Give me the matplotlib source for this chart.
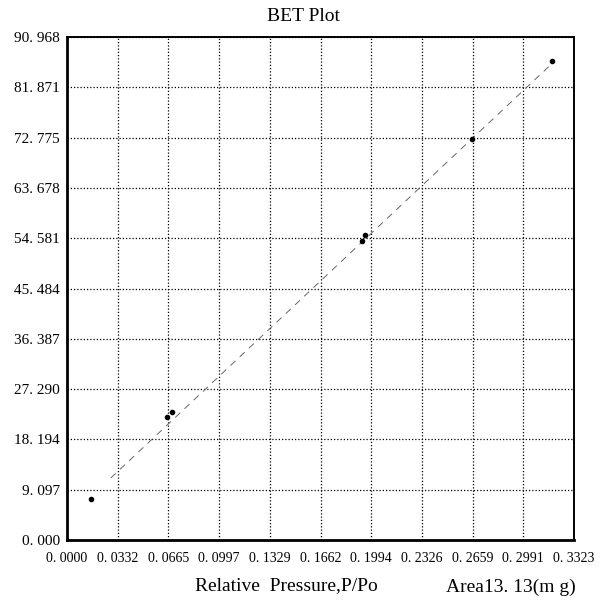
import matplotlib
matplotlib.use("Agg")
import matplotlib.pyplot as plt

# measured points (relative pressure, BET transform)
rel_p = [0.0157, 0.0656, 0.0688, 0.1932, 0.1952, 0.2657, 0.3176]
bet_y = [7.42, 22.25, 23.15, 54.08, 55.16, 72.52, 86.63]

# fitted line ends
fit_x = [0.0287, 0.3176]
fit_y = [11.21, 86.09]

x_ticks = [0.0, 0.0332, 0.0665, 0.0997, 0.1329, 0.1662, 0.1994, 0.2326, 0.2659, 0.2991, 0.3323]
x_labels = ["0. 0000", "0. 0332", "0. 0665", "0. 0997", "0. 1329", "0. 1662",
            "0. 1994", "0. 2326", "0. 2659", "0. 2991", "0. 3323"]
y_ticks = [0.0, 9.097, 18.194, 27.290, 36.387, 45.484, 54.581, 63.678, 72.775, 81.871, 90.968]
y_labels = ["0. 000", "9. 097", "18. 194", "27. 290", "36. 387", "45. 484",
            "54. 581", "63. 678", "72. 775", "81. 871", "90. 968"]

plt.rcParams['font.family'] = ['Liberation Serif', 'DejaVu Serif']

fig = plt.figure(figsize=(6.05, 6.02), dpi=100)
ax = fig.add_axes([0.1107, 0.103, 0.838, 0.8355])

ax.plot(fit_x, fit_y, color='#666666', lw=0.7, linestyle=(0, (7, 6)))
ax.plot(rel_p, bet_y, 'o', color='black', markersize=3, linestyle='none')

ax.set_xlim(0, 0.3323)
ax.set_ylim(0, 90.968)
ax.set_xticks(x_ticks)
ax.set_xticklabels(x_labels, fontsize=10)
ax.set_yticks(y_ticks)
ax.set_yticklabels(y_labels, fontsize=11)
ax.tick_params(axis='both', length=0)
ax.tick_params(axis='x', pad=9)
ax.tick_params(axis='y', pad=5)

ax.grid(True, color='black', linestyle=(0, (1, 1.6)), linewidth=0.9)

for side in ['left', 'bottom']:
    ax.spines[side].set_linewidth(2)
for side in ['top', 'right']:
    ax.spines[side].set_linewidth(1.4)

fig.text(0.501, 0.972, "BET Plot", ha='center', va='center', fontsize=14)
fig.text(0.322, 0.028, "Relative  Pressure,P/Po", ha='left', va='center', fontsize=14)
fig.text(0.737, 0.025, "Area13. 13(m g)", ha='left', va='center', fontsize=14)

fig.savefig("out.png", dpi=100)
